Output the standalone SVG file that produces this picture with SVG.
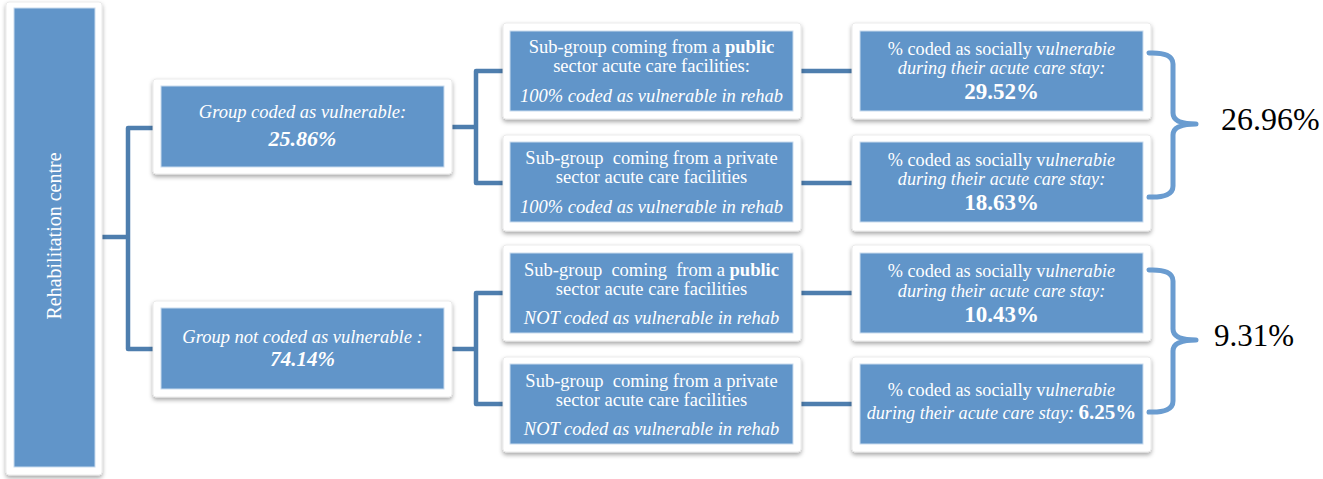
<svg xmlns="http://www.w3.org/2000/svg" width="1323" height="479" viewBox="0 0 1323 479">
<style>
.frame{fill:#ffffff;stroke:#e6e6e6;stroke-width:0.8;filter:url(#sh)}
.box{fill:#6195c9;stroke:#c9dbee;stroke-width:1}
.conn{fill:none;stroke:#4e7eae;stroke-width:4.5;stroke-linejoin:round}
.brace{fill:none;stroke:#6a9cd0;stroke-width:5;stroke-linecap:round;stroke-linejoin:round}
text{font-family:"Liberation Serif","Times New Roman",serif;fill:#ffffff;text-anchor:middle}
.t{font-size:18.5px}
.r{font-size:18.2px}
.n{font-size:23px;font-weight:bold}
.g{font-size:22px;font-weight:bold;font-style:italic}
.i{font-style:italic}
.b{font-weight:bold}
.big{fill:#000000;font-size:32px;text-anchor:start}
</style>
<defs>
<filter id="sh" x="-10%" y="-10%" width="120%" height="130%">
<feDropShadow dx="0" dy="2.5" stdDeviation="2" flood-color="#000000" flood-opacity="0.35"/>
</filter>
</defs>
<g id="connectors">
<polyline class="conn" points="102,237 128,237"/>
<polyline class="conn" points="153,128 128,128 128,349 153,349"/>
<polyline class="conn" points="452,127 476,127"/>
<polyline class="conn" points="503,71 476,71 476,183 503,183"/>
<polyline class="conn" points="452,349 476,349"/>
<polyline class="conn" points="503,293 476,293 476,404 503,404"/>
<polyline class="conn" points="801,71 852,71"/>
<polyline class="conn" points="801,183 852,183"/>
<polyline class="conn" points="801,293 852,293"/>
<polyline class="conn" points="801,404 852,404"/>
</g>
<g id="rehab">
<rect class="frame" x="6" y="2" width="96" height="473" rx="3"/>
<rect class="box" x="14" y="8" width="81" height="459"/>
<text style="font-size:20px" transform="translate(61,236) rotate(-90)">Rehabilitation centre</text>
</g>
<g id="group-vulnerable">
<rect class="frame" x="153" y="79" width="299" height="95" rx="3"/>
<rect class="box" x="161" y="86" width="283" height="81"/>
<text class="t i" x="302.5" y="118">Group coded as vulnerable:</text>
<text class="g" x="302.5" y="146">25.86%</text>
</g>
<g id="group-not-vulnerable">
<rect class="frame" x="153" y="301" width="299" height="96" rx="3"/>
<rect class="box" x="161" y="308" width="283" height="81"/>
<text class="t i" x="302.5" y="343">Group not coded as vulnerable :</text>
<text class="g" x="302.5" y="366" style="font-size:21px">74.14%</text>
</g>
<g id="sub-public-vuln">
<rect class="frame" x="503" y="23" width="298" height="96" rx="3"/>
<rect class="box" x="510" y="31" width="283" height="80"/>
<text class="t" x="651.5" y="53" xml:space="preserve">Sub-group coming from a <tspan class="b">public</tspan></text>
<text class="t" x="651.5" y="72">sector acute care facilities:</text>
<text class="t i" x="651.5" y="102">100% coded as vulnerable in rehab</text>
</g>
<g id="sub-private-vuln">
<rect class="frame" x="503" y="135" width="298" height="96" rx="3"/>
<rect class="box" x="510" y="142" width="283" height="80"/>
<text class="t" x="651.5" y="164" xml:space="preserve">Sub-group  coming from a private</text>
<text class="t" x="651.5" y="183">sector acute care facilities</text>
<text class="t i" x="651.5" y="213">100% coded as vulnerable in rehab</text>
</g>
<g id="sub-public-notvuln">
<rect class="frame" x="503" y="245" width="298" height="96" rx="3"/>
<rect class="box" x="510" y="253" width="283" height="80"/>
<text class="t" x="651.5" y="276" xml:space="preserve">Sub-group  coming  from a <tspan class="b">public</tspan></text>
<text class="t" x="651.5" y="295">sector acute care facilities</text>
<text class="t i" x="651.5" y="324">NOT coded as vulnerable in rehab</text>
</g>
<g id="sub-private-notvuln">
<rect class="frame" x="503" y="357" width="298" height="95" rx="3"/>
<rect class="box" x="510" y="364" width="283" height="80"/>
<text class="t" x="651.5" y="387" xml:space="preserve">Sub-group  coming from a private</text>
<text class="t" x="651.5" y="406">sector acute care facilities</text>
<text class="t i" x="651.5" y="435">NOT coded as vulnerable in rehab</text>
</g>
<g id="res-1">
<rect class="frame" x="852" y="23" width="299" height="96" rx="3"/>
<rect class="box" x="860" y="31" width="283" height="80"/>
<text class="r" x="1001.5" y="55">% coded as socially v<tspan class="i">ulnerabie</tspan></text>
<text class="r i" x="1001.5" y="74">during their acute care stay:</text>
<text class="n" x="1001.5" y="99">29.52%</text>
</g>
<g id="res-2">
<rect class="frame" x="852" y="135" width="299" height="96" rx="3"/>
<rect class="box" x="860" y="142" width="283" height="80"/>
<text class="r" x="1001.5" y="166">% coded as socially v<tspan class="i">ulnerabie</tspan></text>
<text class="r i" x="1001.5" y="185">during their acute care stay:</text>
<text class="n" x="1001.5" y="210">18.63%</text>
</g>
<g id="res-3">
<rect class="frame" x="852" y="245" width="299" height="96" rx="3"/>
<rect class="box" x="860" y="253" width="283" height="80"/>
<text class="r" x="1001.5" y="277">% coded as socially v<tspan class="i">ulnerabie</tspan></text>
<text class="r i" x="1001.5" y="297">during their acute care stay:</text>
<text class="n" x="1001.5" y="322">10.43%</text>
</g>
<g id="res-4">
<rect class="frame" x="852" y="357" width="299" height="95" rx="3"/>
<rect class="box" x="860" y="364" width="283" height="80"/>
<text class="r" x="1001.5" y="396">% coded as socially v<tspan class="i">ulnerabie</tspan></text>
<text class="r i" x="1001.5" y="419">during their acute care stay: <tspan style="font-style:normal;font-weight:bold;font-size:21px">6.25%</tspan></text>
</g>
<g id="brace-top">
<path class="brace" d="M1149,53 Q1173,52 1173,64 L1173,113 Q1173,124 1196,124 Q1173,124 1173,135 L1173,186 Q1173,198 1149,197"/>
<text class="big" x="1221" y="130">26.96%</text>
</g>
<g id="brace-bottom">
<path class="brace" d="M1149,270 Q1173,269 1173,281 L1173,329 Q1173,340 1196,340 Q1173,340 1173,351 L1173,401 Q1173,413 1149,412"/>
<text class="big" x="1214" y="346" style="font-size:31px">9.31%</text>
</g>
</svg>
